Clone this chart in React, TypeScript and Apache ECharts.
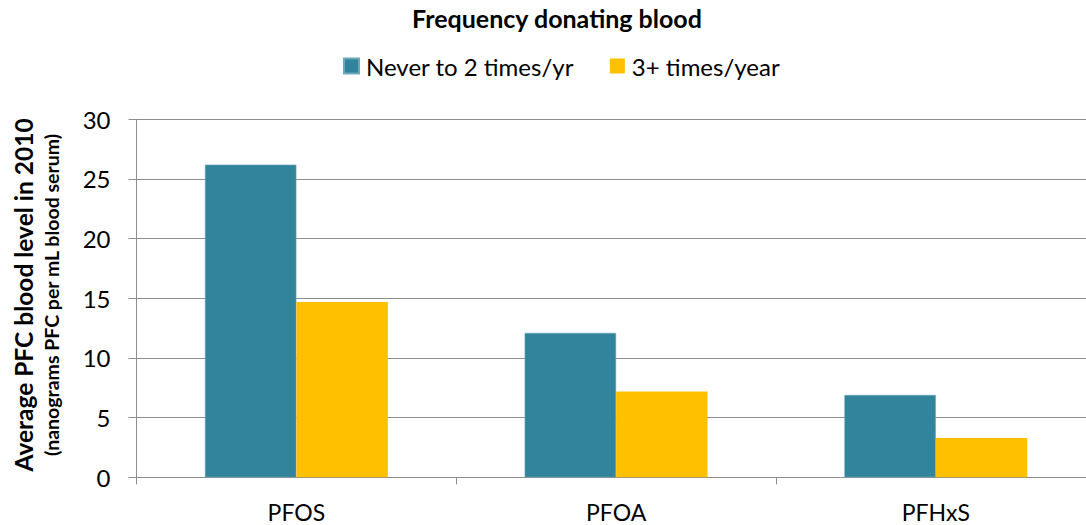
import React, { useEffect, useRef } from "react";
import * as echarts from "echarts";

const categories = ["PFOS", "PFOA", "PFHxS"];
const seriesNames = ["Never to 2 times/yr", "3+ times/year"];
const lowDonors = [26.2, 12.1, 6.9];
const highDonors = [14.7, 7.2, 3.3];
const yTicks = { min: 0, max: 30, interval: 5 };

const FONT = "Lato, 'Noto Sans', sans-serif";
const GRID = "#8e8e8e";

export default function App() {
  const ref = useRef<HTMLDivElement>(null);
  useEffect(() => {
    if (!ref.current) return;
    const chart = echarts.init(ref.current, undefined, { renderer: "svg" });
    chart.setOption({
      animation: false,
      textStyle: { fontFamily: FONT, color: "#000" },
      color: ["#31849B", "#FFC000"],
      legend: {
        data: seriesNames,
        left: 338,
        top: 49,
        icon: "rect",
        itemWidth: 15,
        itemHeight: 15,
        itemGap: 36,
        textStyle: { fontSize: 24, color: "#000", fontFamily: FONT, padding: [0, 0, 0, 2] },
      },
      grid: { left: 136.5, right: 4.3, top: 119.3, bottom: 47.7, containLabel: false },
      xAxis: {
        type: "category",
        data: categories,
        axisLine: { show: true, lineStyle: { color: GRID, width: 1 } },
        axisTick: { show: true, length: 7, lineStyle: { color: GRID } },
        axisLabel: { fontSize: 23, color: "#000", margin: 23, fontFamily: FONT },
      },
      yAxis: {
        type: "value",
        min: yTicks.min,
        max: yTicks.max,
        interval: yTicks.interval,
        axisLine: { show: true, lineStyle: { color: GRID, width: 1 } },
        axisTick: { show: true, length: 8, inside: false, lineStyle: { color: GRID } },
        axisLabel: { fontSize: 24, color: "#000", margin: 26, fontFamily: FONT },
        splitLine: { show: true, lineStyle: { color: GRID, width: 1 } },
      },
      series: [
        {
          name: seriesNames[0],
          type: "bar",
          data: lowDonors,
          barGap: "0%",
          barCategoryGap: "42.8%",
          itemStyle: { borderColor: "#6aa8ba", borderWidth: 0.6 },
        },
        {
          name: seriesNames[1],
          type: "bar",
          data: highDonors,
          barGap: "0%",
          barCategoryGap: "42.8%",
        },
      ],
      graphic: [
        {
          type: "text",
          x: 557,
          y: 18,
          style: {
            text: "Frequency donating blood",
            font: `bold 25px ${FONT}`,
            fill: "#000",
            textAlign: "center",
            textVerticalAlign: "middle",
          },
        },
        {
          type: "text",
          x: 23,
          y: 295,
          rotation: Math.PI / 2,
          style: {
            text: "Average PFC blood level in 2010",
            font: `bold 24.5px ${FONT}`,
            fill: "#000",
            textAlign: "center",
            textVerticalAlign: "middle",
          },
        },
        {
          type: "text",
          x: 51,
          y: 295,
          rotation: Math.PI / 2,
          style: {
            text: "(nanograms PFC per mL blood serum)",
            font: `bold 19.5px ${FONT}`,
            fill: "#000",
            textAlign: "center",
            textVerticalAlign: "middle",
          },
        },
      ],
    });
    return () => chart.dispose();
  }, []);
  return (
    <div style={{ position: "absolute", left: 0, top: 0, width: 1086, height: 525, overflow: "hidden", background: "#fff" }}>
      <div ref={ref} style={{ width: 1100, height: 525 }} />
    </div>
  );
}
